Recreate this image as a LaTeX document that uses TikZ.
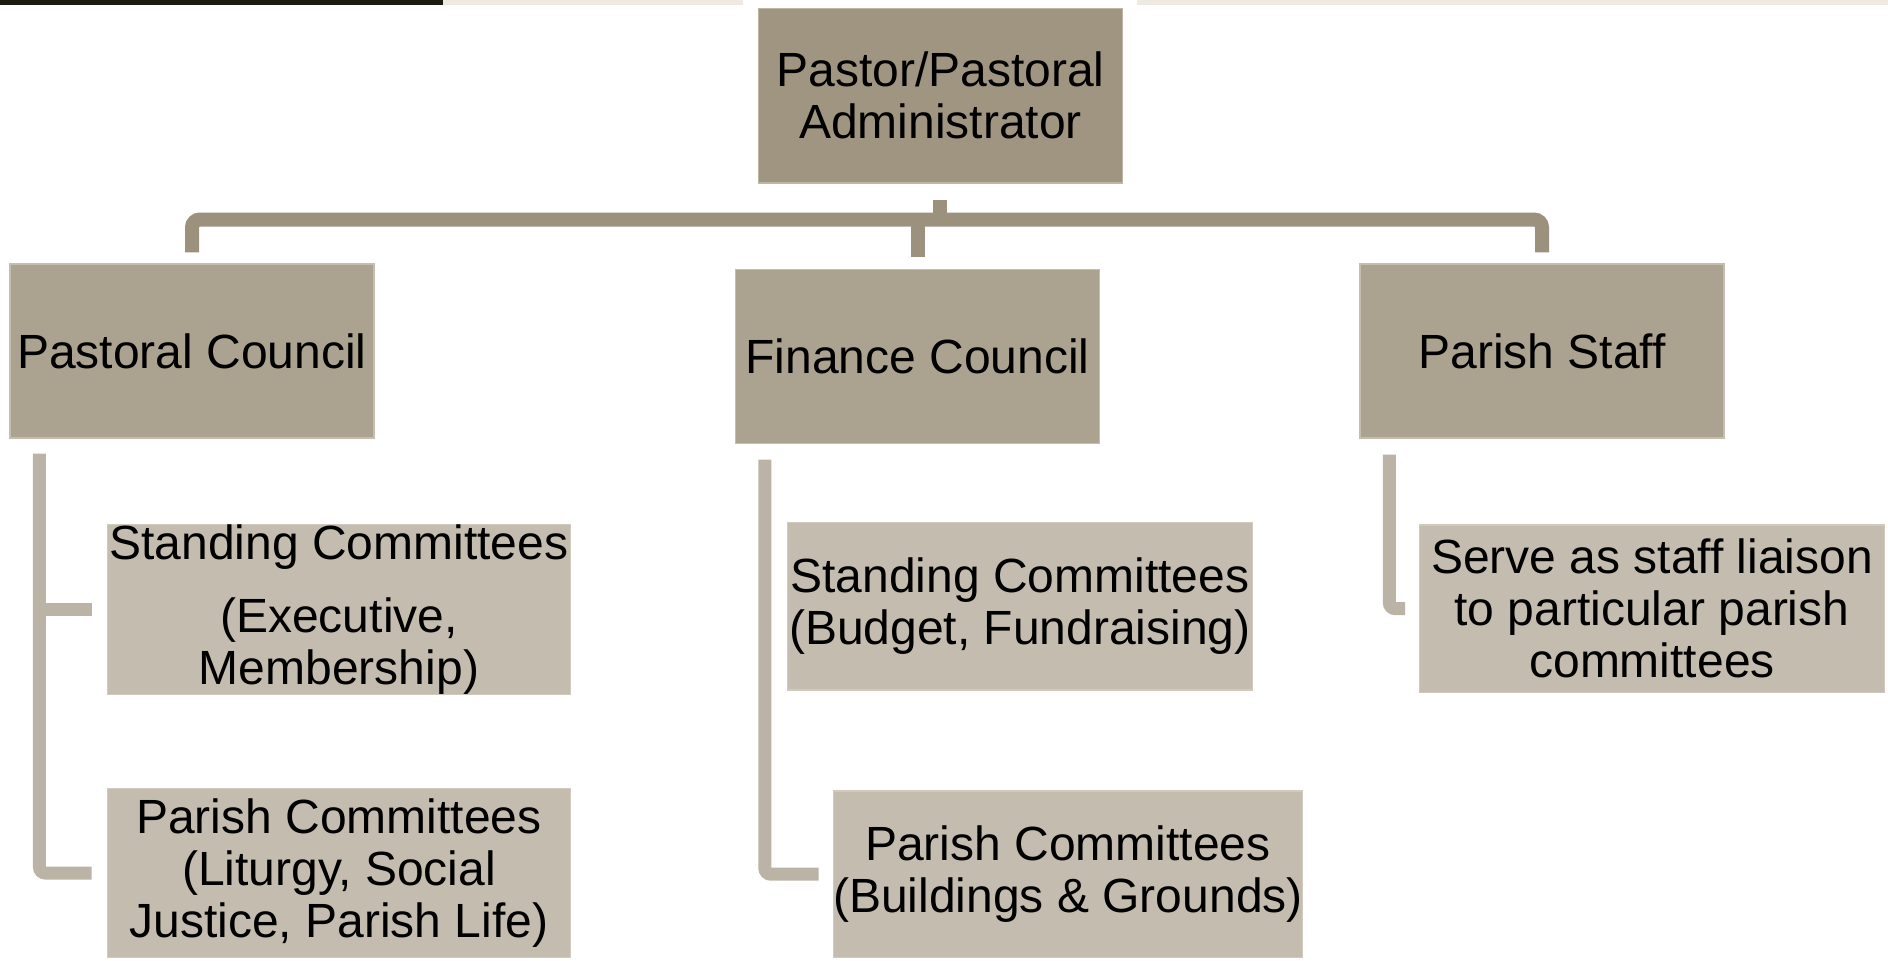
\documentclass[tikz,border=0pt]{standalone}
\usepackage{fontspec}
\setmainfont{Liberation Sans}
\usetikzlibrary{calc}
\definecolor{topfill}{HTML}{A09580}
\definecolor{busline}{HTML}{9C917C}
\definecolor{midfill}{HTML}{ABA28F}
\definecolor{lowfill}{HTML}{C4BCAE}
\definecolor{lowline}{HTML}{BAB3A6}
\definecolor{darkbar}{HTML}{1B1B12}
\definecolor{lightbar}{HTML}{EEEAE2}
\tikzset{
  box/.style={rectangle, inner sep=0pt, align=center, text=black,
    font=\fontsize{48}{52}\selectfont},
  topbox/.style={box, fill=topfill, draw=topfill!70!white, line width=1.2pt,
    minimum width=363.6pt, minimum height=174.6pt},
  midbox/.style={box, fill=midfill, draw=midfill!70!white, line width=1.2pt,
    minimum width=364pt, minimum height=174pt},
  lowbox/.style={box, fill=lowfill, draw=lowfill!80!white, line width=1.2pt,
    minimum width=464.5pt, minimum height=168pt},
  busconn/.style={draw=busline, line width=14pt},
  subconn/.style={draw=lowline, line width=13pt}
}
\begin{document}
\begin{tikzpicture}[x=1pt,y=-1pt]
\useasboundingbox (0,0) rectangle (1888,961);
% top strip
\fill[darkbar] (0,0) rectangle (443,5);
\fill[lightbar] (443,0) rectangle (743,5);
\fill[lightbar] (1137,0) rectangle (1888,5);

% nodes
\node[topbox] (top) at (940.4,95.7) {Pastor/Pastoral\\Administrator};
\node[midbox] (pc) at (192,351) {Pastoral Council};
\node[midbox, minimum height=173.4pt] (fc) at (917.5,356.4) {Finance Council};
\node[midbox] (ps) at (1542,351) {Parish Staff};

\node[lowbox, minimum width=463.5pt, minimum height=168.6pt] (sc1) at (339,609.3)
  {Standing Committees\\[21pt](Executive,\\Membership)};
\node[lowbox, minimum width=463.5pt, minimum height=168.6pt] (pc1) at (339,873)
  {Parish Committees\\(Liturgy, Social\\Justice, Parish Life)};
\node[lowbox, minimum height=167.4pt] (sc2) at (1019.9,606.3)
  {Standing Committees\\(Budget, Fundraising)};
\node[lowbox, minimum height=166.3pt] (pc2) at (1068,874.2)
  {Parish Committees\\(Buildings \& Grounds)};
\node[lowbox, minimum height=167.4pt] (ps1) at (1652,608.7)
  {Serve as staff liaison\\to particular parish\\committees};

% top bus
\coordinate (bus) at (0,219.5);
\draw[busconn] ($(top.south)+(0,16)$) -- (top.south |- bus);
\draw[busconn, rounded corners=8pt]
  ($(pc.north)+(0,-11)$) -- (pc.north |- bus) -- (ps.north |- bus) -- ($(ps.north)+(0,-11)$);
\draw[busconn] (fc.north |- bus) -- ($(fc.north)+(0,-12)$);

% left branch
\coordinate (lv) at ($(pc.south west)+(30,15)$);
\draw[subconn, rounded corners=6pt] (lv) -- (lv |- pc1.west) -- ($(pc1.west)+(-15,0)$);
\draw[subconn] (lv |- sc1.west) -- ($(sc1.west)+(-15,0)$);

% middle branch
\coordinate (mv) at ($(fc.south west)+(30,16)$);
\draw[subconn, rounded corners=6pt] (mv) -- (mv |- pc2.west) -- ($(pc2.west)+(-14,0)$);

% right branch
\coordinate (rv) at ($(ps.south west)+(30,16)$);
\draw[subconn, rounded corners=6pt] (rv) -- (rv |- ps1.west) -- ($(ps1.west)+(-14,0)$);
\end{tikzpicture}
\end{document}
